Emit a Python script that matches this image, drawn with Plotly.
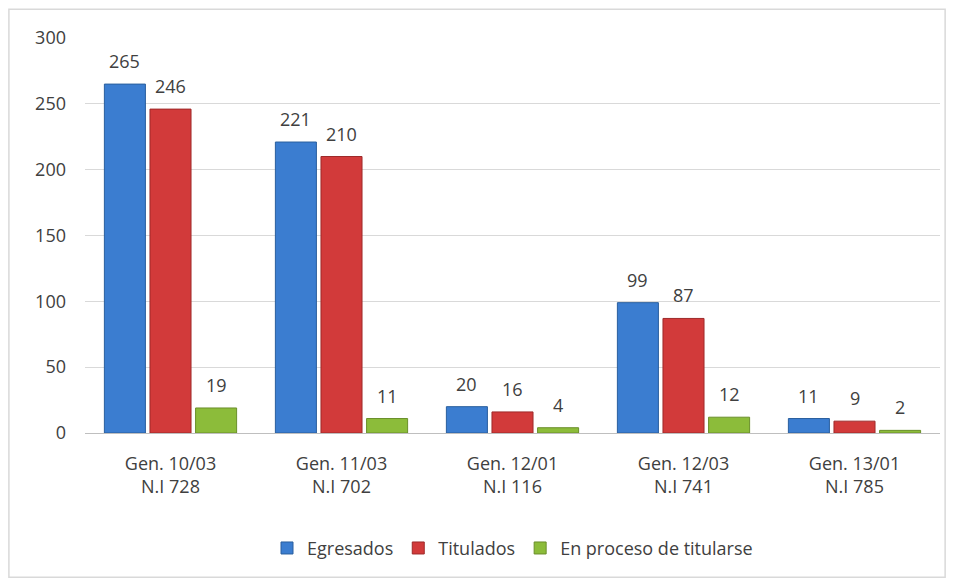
import plotly.graph_objects as go

categories = ["Gen. 10/03<br>N.I 728", "Gen. 11/03<br>N.I 702", "Gen. 12/01<br>N.I 116",
              "Gen. 12/03<br>N.I 741", "Gen. 13/01<br>N.I 785"]
egresados = [265, 221, 20, 99, 11]
titulados = [246, 210, 16, 87, 9]
en_proceso = [19, 11, 4, 12, 2]

series = [
    ("Egresados", egresados, "#3b7dd0", "#2a5f9e"),
    ("Titulados", titulados, "#d23a3a", "#9e2a2a"),
    ("En proceso de titularse", en_proceso, "#8cbc3a", "#6a8f2a"),
]

fig = go.Figure()
for name, vals, color, edge in series:
    fig.add_trace(go.Bar(
        x=categories, y=vals, name=name,
        marker=dict(color=color, line=dict(color=edge, width=1)),
    ))

# value labels sit a bit higher above the bars than plotly's outside text
slot = 0.8 / len(series)
for k, (name, vals, color, edge) in enumerate(series):
    offset = (k - (len(series) - 1) / 2) * slot
    for i, v in enumerate(vals):
        fig.add_annotation(x=i + offset, y=v, xref="x", yref="y", text=str(v),
                           showarrow=False, yanchor="bottom", yshift=9,
                           font=dict(size=18, color="#404040"))

# the page body adds 8px around the figure, so margins are shifted to compensate
fig.update_layout(
    width=955, height=579,
    paper_bgcolor="white", plot_bgcolor="white",
    font=dict(family="Open Sans, Liberation Sans, sans-serif", color="#404040", size=18),
    margin=dict(l=77, r=23, t=30, b=154),
    barmode="group", bargap=0.2, bargroupgap=0.1,
    legend=dict(orientation="h", x=0.5, xanchor="center", y=-0.245, yanchor="top",
                font=dict(size=18, color="#404040"), itemwidth=30),
    shapes=[dict(type="rect", xref="paper", yref="paper",
                 x0=-0.089, x1=1.006, y0=-0.365, y1=1.073,
                 line=dict(color="#d9d9d9", width=1.5))],
)
fig.update_yaxes(range=[0, 300], dtick=50, showgrid=True, gridcolor="#d9d9d9",
                 zeroline=False, tickfont=dict(size=18), ticks="", ticklabelstandoff=18)
fig.update_xaxes(showline=True, linecolor="#bfbfbf", tickfont=dict(size=18), ticks="",
                 ticklabelstandoff=14)

fig.write_html("out.html")
